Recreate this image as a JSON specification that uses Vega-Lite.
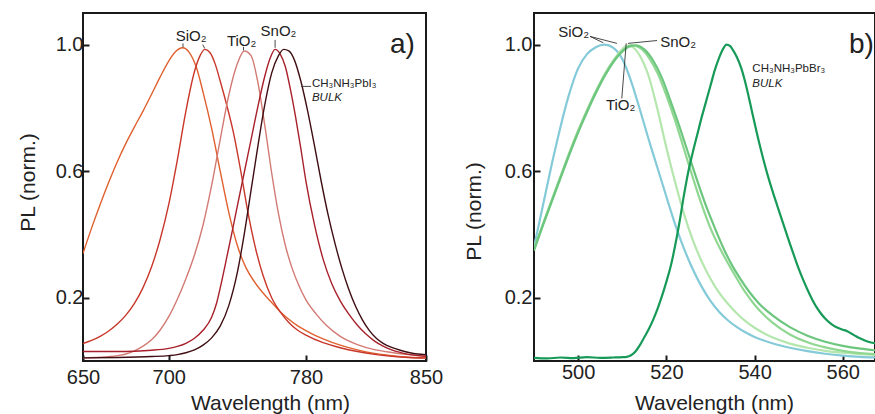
{
"$schema":"https://vega.github.io/schema/vega-lite/v6.json",
"background":"white",
"padding":{"left":16,"top":12,"right":0,"bottom":0},
"spacing":108,
"bounds":"flush",
"resolve":{"scale":{"color":"independent"}},
"config":{
 "font":"Liberation Sans",
 "view":{"stroke":"#1a1a1a","strokeWidth":2},
 "axis":{"grid":false,"domain":false,"tickColor":"#1a1a1a","tickWidth":2,"tickSize":-6,"labelColor":"#222","titleColor":"#222","labelFontSize":20,"titleFontSize":21,"titleFontWeight":"normal","labelFlush":false,"labelOverlap":false,"labelBound":false},
 "text":{"color":"#222"}
},
"datasets":{
 "curvesA":[
  {"series":"SiO2 (i)","wl":650,"pl":0.34},{"series":"SiO2 (i)","wl":655,"pl":0.42},{"series":"SiO2 (i)","wl":660,"pl":0.495},{"series":"SiO2 (i)","wl":665,"pl":0.565},{"series":"SiO2 (i)","wl":670,"pl":0.63},{"series":"SiO2 (i)","wl":675,"pl":0.688},{"series":"SiO2 (i)","wl":680,"pl":0.74},{"series":"SiO2 (i)","wl":685,"pl":0.79},{"series":"SiO2 (i)","wl":690,"pl":0.843},{"series":"SiO2 (i)","wl":695,"pl":0.898},{"series":"SiO2 (i)","wl":700,"pl":0.948},{"series":"SiO2 (i)","wl":704,"pl":0.978},{"series":"SiO2 (i)","wl":708,"pl":0.99},{"series":"SiO2 (i)","wl":712,"pl":0.975},{"series":"SiO2 (i)","wl":716,"pl":0.93},{"series":"SiO2 (i)","wl":720,"pl":0.85},{"series":"SiO2 (i)","wl":725,"pl":0.735},{"series":"SiO2 (i)","wl":730,"pl":0.6},{"series":"SiO2 (i)","wl":735,"pl":0.47},{"series":"SiO2 (i)","wl":740,"pl":0.365},{"series":"SiO2 (i)","wl":745,"pl":0.295},{"series":"SiO2 (i)","wl":750,"pl":0.25},{"series":"SiO2 (i)","wl":755,"pl":0.215},{"series":"SiO2 (i)","wl":760,"pl":0.185},{"series":"SiO2 (i)","wl":765,"pl":0.156},{"series":"SiO2 (i)","wl":770,"pl":0.132},{"series":"SiO2 (i)","wl":775,"pl":0.112},{"series":"SiO2 (i)","wl":780,"pl":0.096},{"series":"SiO2 (i)","wl":785,"pl":0.082},{"series":"SiO2 (i)","wl":790,"pl":0.07},{"series":"SiO2 (i)","wl":800,"pl":0.05},{"series":"SiO2 (i)","wl":810,"pl":0.035},{"series":"SiO2 (i)","wl":820,"pl":0.024},{"series":"SiO2 (i)","wl":830,"pl":0.017},{"series":"SiO2 (i)","wl":840,"pl":0.012},{"series":"SiO2 (i)","wl":850,"pl":0.01},
  {"series":"SiO2 (ii)","wl":650,"pl":0.055},{"series":"SiO2 (ii)","wl":655,"pl":0.065},{"series":"SiO2 (ii)","wl":660,"pl":0.078},{"series":"SiO2 (ii)","wl":665,"pl":0.095},{"series":"SiO2 (ii)","wl":670,"pl":0.117},{"series":"SiO2 (ii)","wl":675,"pl":0.145},{"series":"SiO2 (ii)","wl":680,"pl":0.182},{"series":"SiO2 (ii)","wl":685,"pl":0.232},{"series":"SiO2 (ii)","wl":690,"pl":0.298},{"series":"SiO2 (ii)","wl":695,"pl":0.385},{"series":"SiO2 (ii)","wl":700,"pl":0.495},{"series":"SiO2 (ii)","wl":705,"pl":0.635},{"series":"SiO2 (ii)","wl":710,"pl":0.79},{"series":"SiO2 (ii)","wl":715,"pl":0.915},{"series":"SiO2 (ii)","wl":718,"pl":0.962},{"series":"SiO2 (ii)","wl":721,"pl":0.985},{"series":"SiO2 (ii)","wl":724,"pl":0.975},{"series":"SiO2 (ii)","wl":727,"pl":0.94},{"series":"SiO2 (ii)","wl":730,"pl":0.885},{"series":"SiO2 (ii)","wl":734,"pl":0.805},{"series":"SiO2 (ii)","wl":738,"pl":0.715},{"series":"SiO2 (ii)","wl":742,"pl":0.6},{"series":"SiO2 (ii)","wl":746,"pl":0.475},{"series":"SiO2 (ii)","wl":750,"pl":0.37},{"series":"SiO2 (ii)","wl":755,"pl":0.27},{"series":"SiO2 (ii)","wl":760,"pl":0.2},{"series":"SiO2 (ii)","wl":765,"pl":0.155},{"series":"SiO2 (ii)","wl":770,"pl":0.122},{"series":"SiO2 (ii)","wl":775,"pl":0.098},{"series":"SiO2 (ii)","wl":780,"pl":0.082},{"series":"SiO2 (ii)","wl":790,"pl":0.058},{"series":"SiO2 (ii)","wl":800,"pl":0.042},{"series":"SiO2 (ii)","wl":810,"pl":0.03},{"series":"SiO2 (ii)","wl":820,"pl":0.021},{"series":"SiO2 (ii)","wl":830,"pl":0.015},{"series":"SiO2 (ii)","wl":840,"pl":0.011},{"series":"SiO2 (ii)","wl":850,"pl":0.009},
  {"series":"TiO2","wl":650,"pl":0.01},{"series":"TiO2","wl":660,"pl":0.012},{"series":"TiO2","wl":670,"pl":0.017},{"series":"TiO2","wl":675,"pl":0.022},{"series":"TiO2","wl":680,"pl":0.032},{"series":"TiO2","wl":685,"pl":0.047},{"series":"TiO2","wl":690,"pl":0.067},{"series":"TiO2","wl":695,"pl":0.098},{"series":"TiO2","wl":700,"pl":0.14},{"series":"TiO2","wl":705,"pl":0.195},{"series":"TiO2","wl":710,"pl":0.26},{"series":"TiO2","wl":715,"pl":0.335},{"series":"TiO2","wl":720,"pl":0.43},{"series":"TiO2","wl":725,"pl":0.555},{"series":"TiO2","wl":730,"pl":0.7},{"series":"TiO2","wl":735,"pl":0.84},{"series":"TiO2","wl":740,"pl":0.94},{"series":"TiO2","wl":744,"pl":0.98},{"series":"TiO2","wl":748,"pl":0.965},{"series":"TiO2","wl":752,"pl":0.88},{"series":"TiO2","wl":756,"pl":0.745},{"series":"TiO2","wl":760,"pl":0.595},{"series":"TiO2","wl":764,"pl":0.465},{"series":"TiO2","wl":768,"pl":0.365},{"series":"TiO2","wl":772,"pl":0.292},{"series":"TiO2","wl":776,"pl":0.237},{"series":"TiO2","wl":780,"pl":0.193},{"series":"TiO2","wl":786,"pl":0.148},{"series":"TiO2","wl":792,"pl":0.112},{"series":"TiO2","wl":800,"pl":0.078},{"series":"TiO2","wl":810,"pl":0.052},{"series":"TiO2","wl":820,"pl":0.036},{"series":"TiO2","wl":830,"pl":0.027},{"series":"TiO2","wl":840,"pl":0.02},{"series":"TiO2","wl":850,"pl":0.015},
  {"series":"SnO2","wl":650,"pl":0.03},{"series":"SnO2","wl":660,"pl":0.03},{"series":"SnO2","wl":670,"pl":0.03},{"series":"SnO2","wl":680,"pl":0.031},{"series":"SnO2","wl":690,"pl":0.034},{"series":"SnO2","wl":700,"pl":0.04},{"series":"SnO2","wl":705,"pl":0.046},{"series":"SnO2","wl":710,"pl":0.056},{"series":"SnO2","wl":715,"pl":0.072},{"series":"SnO2","wl":720,"pl":0.097},{"series":"SnO2","wl":725,"pl":0.138},{"series":"SnO2","wl":728,"pl":0.185},{"series":"SnO2","wl":731,"pl":0.255},{"series":"SnO2","wl":734,"pl":0.332},{"series":"SnO2","wl":737,"pl":0.41},{"series":"SnO2","wl":740,"pl":0.49},{"series":"SnO2","wl":744,"pl":0.595},{"series":"SnO2","wl":748,"pl":0.7},{"series":"SnO2","wl":752,"pl":0.805},{"series":"SnO2","wl":756,"pl":0.9},{"series":"SnO2","wl":759,"pl":0.955},{"series":"SnO2","wl":762,"pl":0.985},{"series":"SnO2","wl":765,"pl":0.97},{"series":"SnO2","wl":768,"pl":0.93},{"series":"SnO2","wl":771,"pl":0.857},{"series":"SnO2","wl":774,"pl":0.77},{"series":"SnO2","wl":777,"pl":0.672},{"series":"SnO2","wl":780,"pl":0.568},{"series":"SnO2","wl":785,"pl":0.43},{"series":"SnO2","wl":790,"pl":0.322},{"series":"SnO2","wl":795,"pl":0.245},{"series":"SnO2","wl":800,"pl":0.19},{"series":"SnO2","wl":805,"pl":0.148},{"series":"SnO2","wl":810,"pl":0.113},{"series":"SnO2","wl":815,"pl":0.085},{"series":"SnO2","wl":820,"pl":0.063},{"series":"SnO2","wl":825,"pl":0.047},{"series":"SnO2","wl":830,"pl":0.035},{"series":"SnO2","wl":840,"pl":0.021},{"series":"SnO2","wl":850,"pl":0.015},
  {"series":"bulk","wl":650,"pl":0.01},{"series":"bulk","wl":670,"pl":0.011},{"series":"bulk","wl":690,"pl":0.014},{"series":"bulk","wl":700,"pl":0.017},{"series":"bulk","wl":705,"pl":0.02},{"series":"bulk","wl":710,"pl":0.026},{"series":"bulk","wl":715,"pl":0.035},{"series":"bulk","wl":720,"pl":0.05},{"series":"bulk","wl":725,"pl":0.073},{"series":"bulk","wl":730,"pl":0.11},{"series":"bulk","wl":735,"pl":0.175},{"series":"bulk","wl":740,"pl":0.28},{"series":"bulk","wl":744,"pl":0.4},{"series":"bulk","wl":748,"pl":0.54},{"series":"bulk","wl":752,"pl":0.68},{"series":"bulk","wl":756,"pl":0.81},{"series":"bulk","wl":760,"pl":0.91},{"series":"bulk","wl":764,"pl":0.965},{"series":"bulk","wl":767,"pl":0.985},{"series":"bulk","wl":770,"pl":0.98},{"series":"bulk","wl":773,"pl":0.955},{"series":"bulk","wl":777,"pl":0.885},{"series":"bulk","wl":781,"pl":0.79},{"series":"bulk","wl":785,"pl":0.68},{"series":"bulk","wl":789,"pl":0.565},{"series":"bulk","wl":793,"pl":0.46},{"series":"bulk","wl":797,"pl":0.37},{"series":"bulk","wl":801,"pl":0.292},{"series":"bulk","wl":805,"pl":0.226},{"series":"bulk","wl":809,"pl":0.172},{"series":"bulk","wl":813,"pl":0.129},{"series":"bulk","wl":817,"pl":0.096},{"series":"bulk","wl":821,"pl":0.072},{"series":"bulk","wl":825,"pl":0.056},{"series":"bulk","wl":830,"pl":0.043},{"series":"bulk","wl":835,"pl":0.034},{"series":"bulk","wl":840,"pl":0.027},{"series":"bulk","wl":845,"pl":0.022},{"series":"bulk","wl":850,"pl":0.02}
 ],
 "curvesB":[
  {"series":"SiO2 (i)","wl":490,"pl":0.36},{"series":"SiO2 (i)","wl":492,"pl":0.49},{"series":"SiO2 (i)","wl":494,"pl":0.62},{"series":"SiO2 (i)","wl":496,"pl":0.74},{"series":"SiO2 (i)","wl":498,"pl":0.845},{"series":"SiO2 (i)","wl":500,"pl":0.925},{"series":"SiO2 (i)","wl":502,"pl":0.97},{"series":"SiO2 (i)","wl":504,"pl":0.992},{"series":"SiO2 (i)","wl":506,"pl":1.0},{"series":"SiO2 (i)","wl":508,"pl":0.99},{"series":"SiO2 (i)","wl":510,"pl":0.955},{"series":"SiO2 (i)","wl":512,"pl":0.885},{"series":"SiO2 (i)","wl":514,"pl":0.795},{"series":"SiO2 (i)","wl":516,"pl":0.7},{"series":"SiO2 (i)","wl":518,"pl":0.61},{"series":"SiO2 (i)","wl":520,"pl":0.52},{"series":"SiO2 (i)","wl":522,"pl":0.432},{"series":"SiO2 (i)","wl":524,"pl":0.355},{"series":"SiO2 (i)","wl":526,"pl":0.29},{"series":"SiO2 (i)","wl":528,"pl":0.235},{"series":"SiO2 (i)","wl":530,"pl":0.19},{"series":"SiO2 (i)","wl":532,"pl":0.155},{"series":"SiO2 (i)","wl":534,"pl":0.128},{"series":"SiO2 (i)","wl":536,"pl":0.107},{"series":"SiO2 (i)","wl":538,"pl":0.09},{"series":"SiO2 (i)","wl":540,"pl":0.076},{"series":"SiO2 (i)","wl":544,"pl":0.056},{"series":"SiO2 (i)","wl":548,"pl":0.042},{"series":"SiO2 (i)","wl":552,"pl":0.031},{"series":"SiO2 (i)","wl":556,"pl":0.023},{"series":"SiO2 (i)","wl":560,"pl":0.017},{"series":"SiO2 (i)","wl":564,"pl":0.013},{"series":"SiO2 (i)","wl":568,"pl":0.011},
  {"series":"SiO2 (ii)","wl":490,"pl":0.35},{"series":"SiO2 (ii)","wl":492,"pl":0.43},{"series":"SiO2 (ii)","wl":494,"pl":0.505},{"series":"SiO2 (ii)","wl":496,"pl":0.58},{"series":"SiO2 (ii)","wl":498,"pl":0.655},{"series":"SiO2 (ii)","wl":500,"pl":0.725},{"series":"SiO2 (ii)","wl":502,"pl":0.79},{"series":"SiO2 (ii)","wl":504,"pl":0.85},{"series":"SiO2 (ii)","wl":506,"pl":0.905},{"series":"SiO2 (ii)","wl":508,"pl":0.95},{"series":"SiO2 (ii)","wl":510,"pl":0.985},{"series":"SiO2 (ii)","wl":511,"pl":0.997},{"series":"SiO2 (ii)","wl":512,"pl":0.995},{"series":"SiO2 (ii)","wl":514,"pl":0.965},{"series":"SiO2 (ii)","wl":516,"pl":0.9},{"series":"SiO2 (ii)","wl":518,"pl":0.795},{"series":"SiO2 (ii)","wl":520,"pl":0.675},{"series":"SiO2 (ii)","wl":522,"pl":0.565},{"series":"SiO2 (ii)","wl":524,"pl":0.465},{"series":"SiO2 (ii)","wl":526,"pl":0.382},{"series":"SiO2 (ii)","wl":528,"pl":0.315},{"series":"SiO2 (ii)","wl":530,"pl":0.26},{"series":"SiO2 (ii)","wl":532,"pl":0.215},{"series":"SiO2 (ii)","wl":534,"pl":0.18},{"series":"SiO2 (ii)","wl":536,"pl":0.15},{"series":"SiO2 (ii)","wl":538,"pl":0.125},{"series":"SiO2 (ii)","wl":540,"pl":0.105},{"series":"SiO2 (ii)","wl":544,"pl":0.075},{"series":"SiO2 (ii)","wl":548,"pl":0.055},{"series":"SiO2 (ii)","wl":552,"pl":0.042},{"series":"SiO2 (ii)","wl":556,"pl":0.032},{"series":"SiO2 (ii)","wl":560,"pl":0.026},{"series":"SiO2 (ii)","wl":564,"pl":0.022},{"series":"SiO2 (ii)","wl":568,"pl":0.019},
  {"series":"TiO2","wl":490,"pl":0.355},{"series":"TiO2","wl":492,"pl":0.432},{"series":"TiO2","wl":494,"pl":0.508},{"series":"TiO2","wl":496,"pl":0.583},{"series":"TiO2","wl":498,"pl":0.658},{"series":"TiO2","wl":500,"pl":0.728},{"series":"TiO2","wl":502,"pl":0.792},{"series":"TiO2","wl":504,"pl":0.852},{"series":"TiO2","wl":506,"pl":0.905},{"series":"TiO2","wl":508,"pl":0.948},{"series":"TiO2","wl":510,"pl":0.98},{"series":"TiO2","wl":512,"pl":0.998},{"series":"TiO2","wl":514,"pl":0.99},{"series":"TiO2","wl":516,"pl":0.96},{"series":"TiO2","wl":518,"pl":0.91},{"series":"TiO2","wl":520,"pl":0.84},{"series":"TiO2","wl":522,"pl":0.76},{"series":"TiO2","wl":524,"pl":0.67},{"series":"TiO2","wl":526,"pl":0.58},{"series":"TiO2","wl":528,"pl":0.495},{"series":"TiO2","wl":530,"pl":0.42},{"series":"TiO2","wl":532,"pl":0.36},{"series":"TiO2","wl":534,"pl":0.308},{"series":"TiO2","wl":536,"pl":0.26},{"series":"TiO2","wl":538,"pl":0.215},{"series":"TiO2","wl":540,"pl":0.178},{"series":"TiO2","wl":544,"pl":0.122},{"series":"TiO2","wl":548,"pl":0.084},{"series":"TiO2","wl":552,"pl":0.059},{"series":"TiO2","wl":556,"pl":0.043},{"series":"TiO2","wl":560,"pl":0.032},{"series":"TiO2","wl":564,"pl":0.025},{"series":"TiO2","wl":568,"pl":0.021},
  {"series":"SnO2","wl":490,"pl":0.35},{"series":"SnO2","wl":492,"pl":0.428},{"series":"SnO2","wl":494,"pl":0.503},{"series":"SnO2","wl":496,"pl":0.578},{"series":"SnO2","wl":498,"pl":0.652},{"series":"SnO2","wl":500,"pl":0.722},{"series":"SnO2","wl":502,"pl":0.786},{"series":"SnO2","wl":504,"pl":0.846},{"series":"SnO2","wl":506,"pl":0.9},{"series":"SnO2","wl":508,"pl":0.945},{"series":"SnO2","wl":510,"pl":0.978},{"series":"SnO2","wl":512,"pl":0.996},{"series":"SnO2","wl":513,"pl":0.998},{"series":"SnO2","wl":515,"pl":0.985},{"series":"SnO2","wl":517,"pl":0.95},{"series":"SnO2","wl":519,"pl":0.895},{"series":"SnO2","wl":521,"pl":0.82},{"series":"SnO2","wl":523,"pl":0.74},{"series":"SnO2","wl":525,"pl":0.655},{"series":"SnO2","wl":527,"pl":0.57},{"series":"SnO2","wl":529,"pl":0.49},{"series":"SnO2","wl":531,"pl":0.42},{"series":"SnO2","wl":533,"pl":0.355},{"series":"SnO2","wl":535,"pl":0.3},{"series":"SnO2","wl":537,"pl":0.255},{"series":"SnO2","wl":539,"pl":0.215},{"series":"SnO2","wl":541,"pl":0.182},{"series":"SnO2","wl":544,"pl":0.145},{"series":"SnO2","wl":548,"pl":0.107},{"series":"SnO2","wl":552,"pl":0.08},{"series":"SnO2","wl":556,"pl":0.061},{"series":"SnO2","wl":560,"pl":0.048},{"series":"SnO2","wl":564,"pl":0.039},{"series":"SnO2","wl":568,"pl":0.033},
  {"series":"bulk","wl":490,"pl":0.01},{"series":"bulk","wl":493,"pl":0.008},{"series":"bulk","wl":496,"pl":0.011},{"series":"bulk","wl":499,"pl":0.009},{"series":"bulk","wl":502,"pl":0.012},{"series":"bulk","wl":505,"pl":0.01},{"series":"bulk","wl":508,"pl":0.011},{"series":"bulk","wl":510,"pl":0.012},{"series":"bulk","wl":511,"pl":0.013},{"series":"bulk","wl":512,"pl":0.018},{"series":"bulk","wl":513,"pl":0.03},{"series":"bulk","wl":514,"pl":0.05},{"series":"bulk","wl":515,"pl":0.075},{"series":"bulk","wl":516,"pl":0.1},{"series":"bulk","wl":517,"pl":0.13},{"series":"bulk","wl":518,"pl":0.165},{"series":"bulk","wl":519,"pl":0.205},{"series":"bulk","wl":520,"pl":0.25},{"series":"bulk","wl":521,"pl":0.3},{"series":"bulk","wl":522,"pl":0.365},{"series":"bulk","wl":523,"pl":0.44},{"series":"bulk","wl":524,"pl":0.525},{"series":"bulk","wl":525,"pl":0.6},{"series":"bulk","wl":526,"pl":0.66},{"series":"bulk","wl":527,"pl":0.715},{"series":"bulk","wl":528,"pl":0.77},{"series":"bulk","wl":529,"pl":0.82},{"series":"bulk","wl":530,"pl":0.87},{"series":"bulk","wl":531,"pl":0.92},{"series":"bulk","wl":532,"pl":0.96},{"series":"bulk","wl":533,"pl":0.99},{"series":"bulk","wl":533.6,"pl":1.0},{"series":"bulk","wl":534.5,"pl":0.995},{"series":"bulk","wl":535,"pl":0.985},{"series":"bulk","wl":536,"pl":0.96},{"series":"bulk","wl":537,"pl":0.925},{"series":"bulk","wl":538,"pl":0.875},{"series":"bulk","wl":539,"pl":0.815},{"series":"bulk","wl":540,"pl":0.752},{"series":"bulk","wl":541,"pl":0.692},{"series":"bulk","wl":542,"pl":0.637},{"series":"bulk","wl":543,"pl":0.586},{"series":"bulk","wl":544,"pl":0.54},{"series":"bulk","wl":545,"pl":0.497},{"series":"bulk","wl":546,"pl":0.455},{"series":"bulk","wl":547,"pl":0.413},{"series":"bulk","wl":548,"pl":0.371},{"series":"bulk","wl":549,"pl":0.331},{"series":"bulk","wl":550,"pl":0.292},{"series":"bulk","wl":551,"pl":0.257},{"series":"bulk","wl":552,"pl":0.225},{"series":"bulk","wl":553,"pl":0.196},{"series":"bulk","wl":554,"pl":0.171},{"series":"bulk","wl":555,"pl":0.151},{"series":"bulk","wl":556,"pl":0.134},{"series":"bulk","wl":557,"pl":0.121},{"series":"bulk","wl":558,"pl":0.111},{"series":"bulk","wl":559,"pl":0.104},{"series":"bulk","wl":560,"pl":0.099},{"series":"bulk","wl":561,"pl":0.094},{"series":"bulk","wl":562,"pl":0.086},{"series":"bulk","wl":563,"pl":0.078},{"series":"bulk","wl":564,"pl":0.071},{"series":"bulk","wl":565,"pl":0.065},{"series":"bulk","wl":566,"pl":0.06},{"series":"bulk","wl":567,"pl":0.057},{"series":"bulk","wl":568,"pl":0.055}
 ],
 "leadA":[{"wl":708.3,"pl":1.004,"wl2":708.3,"pl2":0.992},{"wl":719.8,"pl":1.0,"wl2":721,"pl2":0.988},{"wl":743.6,"pl":0.993,"wl2":743.6,"pl2":0.982},{"wl":762,"pl":1.015,"wl2":762,"pl2":0.99},{"wl":777.2,"pl":0.868,"wl2":783,"pl2":0.868}],
 "labA":[{"t":"SiO₂","wl":713,"pl":1.012},{"t":"TiO₂","wl":742.5,"pl":0.996},{"t":"SnO₂","wl":764,"pl":1.028}],
 "cmpA":[{"t":"CH₃NH₃PbI₃","wl":783.5,"pl":0.865}],
 "bulkA":[{"t":"BULK","wl":783.5,"pl":0.822}],
 "letterA":[{"t":"a)","wl":829,"pl":0.975}],
 "leadB":[{"wl":502.7,"pl":1.026,"wl2":505.7,"pl2":1.006},{"wl":502.7,"pl":1.026,"wl2":508.8,"pl2":1.004},{"wl":517.9,"pl":1.013,"wl2":511.3,"pl2":1.004},{"wl":509.9,"pl":0.83,"wl2":510.9,"pl2":1.004}],
 "labB":[{"t":"SiO₂","wl":495.5,"pl":1.025},{"t":"SnO₂","wl":518.6,"pl":0.992},{"t":"TiO₂","wl":506.3,"pl":0.792}],
 "cmpB":[{"t":"CH₃NH₃PbBr₃","wl":539.5,"pl":0.913}],
 "bulkB":[{"t":"BULK","wl":539.5,"pl":0.867}],
 "letterB":[{"t":"b)","wl":561.4,"pl":0.975}]
},
"hconcat":[
 {
  "width":343,"height":348,
  "layer":[
   {"data":{"name":"curvesA"},"mark":{"type":"line","strokeWidth":1.4,"interpolate":"monotone","clip":true},
    "encoding":{
     "x":{"field":"wl","type":"quantitative","scale":{"domain":[650,850],"nice":false,"zero":false},"axis":{"values":[650,700,780,850],"format":"d","title":"Wavelength (nm)","labelPadding":12,"titleX":187,"titleY":48,"titleBaseline":"alphabetic"}},
     "y":{"field":"pl","type":"quantitative","scale":{"domain":[0,1.1],"nice":false,"zero":false},"axis":{"values":[0.2,0.6,1.0],"format":".1f","title":"PL (norm.)","labelPadding":6,"titleX":-49,"titleY":169,"titleBaseline":"alphabetic"}},
     "color":{"field":"series","type":"nominal","scale":{"domain":["SiO2 (i)","SiO2 (ii)","TiO2","SnO2","bulk"],"range":["#e0602f","#c8372a","#d37a74","#a8202a","#3f0e12"]},"legend":null}
    }},
   {"data":{"name":"leadA"},"mark":{"type":"rule","color":"#333","strokeWidth":0.9},
    "encoding":{"x":{"field":"wl","type":"quantitative"},"y":{"field":"pl","type":"quantitative"},"x2":{"field":"wl2"},"y2":{"field":"pl2"}}},
   {"data":{"name":"labA"},"mark":{"type":"text","fontSize":15,"align":"center","baseline":"alphabetic"},
    "encoding":{"x":{"field":"wl","type":"quantitative"},"y":{"field":"pl","type":"quantitative"},"text":{"field":"t"}}},
   {"data":{"name":"cmpA"},"mark":{"type":"text","fontSize":11.5,"align":"left","baseline":"alphabetic"},
    "encoding":{"x":{"field":"wl","type":"quantitative"},"y":{"field":"pl","type":"quantitative"},"text":{"field":"t"}}},
   {"data":{"name":"bulkA"},"mark":{"type":"text","fontSize":11.5,"fontStyle":"italic","align":"left","baseline":"alphabetic"},
    "encoding":{"x":{"field":"wl","type":"quantitative"},"y":{"field":"pl","type":"quantitative"},"text":{"field":"t"}}},
   {"data":{"name":"letterA"},"mark":{"type":"text","fontSize":28,"align":"left","baseline":"alphabetic"},
    "encoding":{"x":{"field":"wl","type":"quantitative"},"y":{"field":"pl","type":"quantitative"},"text":{"field":"t"}}}
  ]
 },
 {
  "width":341,"height":348,
  "layer":[
   {"data":{"name":"curvesB"},"mark":{"type":"line","strokeWidth":2.2,"interpolate":"monotone","clip":true},
    "encoding":{
     "x":{"field":"wl","type":"quantitative","scale":{"domain":[490,567.3],"nice":false,"zero":false},"axis":{"values":[500,520,540,560],"format":"d","title":"Wavelength (nm)","labelPadding":7,"titleX":180,"titleY":48,"titleBaseline":"alphabetic"}},
     "y":{"field":"pl","type":"quantitative","scale":{"domain":[0,1.1],"nice":false,"zero":false},"axis":{"values":[0.2,0.6,1.0],"format":".1f","title":"PL (norm.)","labelPadding":8,"titleX":-54,"titleY":198,"titleBaseline":"alphabetic"}},
     "color":{"field":"series","type":"nominal","scale":{"domain":["SiO2 (i)","SiO2 (ii)","TiO2","SnO2","bulk"],"range":["#84cad8","#b4e6ad","#90d792","#6cc67e","#179a58"]},"legend":null}
    }},
   {"data":{"name":"leadB"},"mark":{"type":"rule","color":"#333","strokeWidth":0.9},
    "encoding":{"x":{"field":"wl","type":"quantitative"},"y":{"field":"pl","type":"quantitative"},"x2":{"field":"wl2"},"y2":{"field":"pl2"}}},
   {"data":{"name":"labB"},"mark":{"type":"text","fontSize":15,"align":"left","baseline":"alphabetic"},
    "encoding":{"x":{"field":"wl","type":"quantitative"},"y":{"field":"pl","type":"quantitative"},"text":{"field":"t"}}},
   {"data":{"name":"cmpB"},"mark":{"type":"text","fontSize":11.5,"align":"left","baseline":"alphabetic"},
    "encoding":{"x":{"field":"wl","type":"quantitative"},"y":{"field":"pl","type":"quantitative"},"text":{"field":"t"}}},
   {"data":{"name":"bulkB"},"mark":{"type":"text","fontSize":11.5,"fontStyle":"italic","align":"left","baseline":"alphabetic"},
    "encoding":{"x":{"field":"wl","type":"quantitative"},"y":{"field":"pl","type":"quantitative"},"text":{"field":"t"}}},
   {"data":{"name":"letterB"},"mark":{"type":"text","fontSize":28,"align":"left","baseline":"alphabetic"},
    "encoding":{"x":{"field":"wl","type":"quantitative"},"y":{"field":"pl","type":"quantitative"},"text":{"field":"t"}}}
  ]
 }
]
}
